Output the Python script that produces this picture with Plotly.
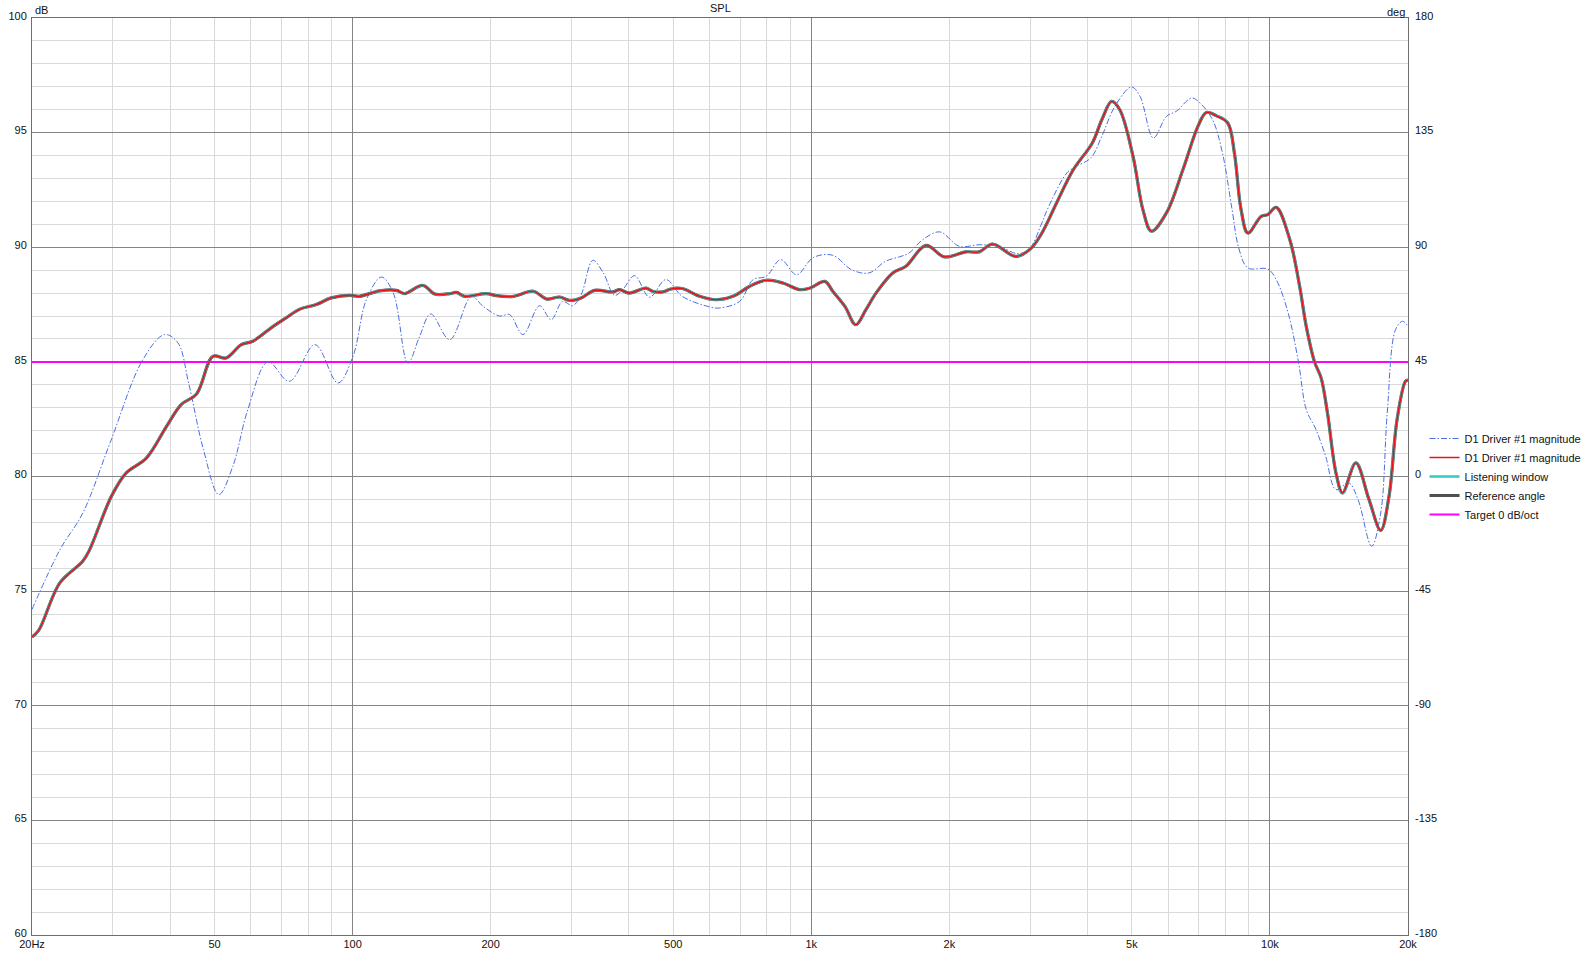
import math
import plotly.graph_objects as go

# ---------------- data ----------------
freq_red = [20, 20.7, 23.0, 25.8, 26.7, 29.8, 32.1, 35.5, 39.3, 42.3, 45.7, 49.6, 53.0, 57.2,
            60.6, 67.1, 71.6, 76.7, 83.4, 89.8, 98.6, 103.4, 114.6, 124.6, 129.8, 142.2, 151,
            162.9, 168.4, 175.5, 195.7, 205.7, 224.4, 247.6, 265, 282.8, 297, 315, 337, 369,
            382, 401, 436, 451, 474, 494, 523, 571, 620, 675, 733, 798, 867, 944, 994, 1071,
            1114, 1184, 1250, 1316, 1384, 1506, 1608, 1778, 1950, 2174, 2324, 2484, 2792, 3006,
            3183, 3430, 3726, 4100, 4300, 4517, 4706, 5030, 5285, 5516, 5948, 6460, 6966, 7264,
            7636, 8092, 8366, 8652, 8952, 9570, 9892, 10320, 11050, 11610, 12000, 12510, 12930,
            13350, 13930, 14400, 15390, 16440, 17440, 18180, 18930, 19750, 20000]
spl_red = [73.0, 73.3, 75.36, 76.3, 76.8, 79.14, 80.16, 80.8, 82.19, 83.14, 83.6, 85.24, 85.17, 85.75,
           85.9, 86.55, 86.92, 87.3, 87.5, 87.79, 87.9, 87.86, 88.1, 88.12, 87.98, 88.34, 87.96,
           87.98, 88.03, 87.86, 87.98, 87.89, 87.86, 88.08, 87.74, 87.83, 87.68, 87.79, 88.12, 88.05,
           88.15, 88.0, 88.22, 88.08, 88.05, 88.18, 88.2, 87.86, 87.71, 87.86, 88.29, 88.56, 88.44, 88.15, 88.22, 88.51,
           88.08, 87.42, 86.62, 87.28, 88.0, 88.88, 89.17, 90.08, 89.58, 89.8, 89.8, 90.14, 89.6, 89.93,
           90.62, 91.95, 93.38, 94.55, 95.56, 96.36, 96.0, 93.96, 91.64, 90.7, 91.5, 93.38, 95.27, 95.88,
           95.74, 95.42, 94.11, 91.64, 90.62, 91.35, 91.42, 91.74, 90.33, 88.29, 86.55, 85.0, 84.3,
           82.77, 80.16, 79.28, 80.59, 79.0, 77.65, 79.13, 82.48, 84.15, 84.2]

freq_blue = [20, 23.0, 25.8, 29.6, 34.9, 38.9, 41.6, 43.9, 47.3, 51.1, 54.8, 59.1, 65.4, 72.8, 82.8,
             92.9, 100.2, 107.2, 115.6, 122.7, 132, 140, 148, 162.9, 181.6, 192.6, 209.2, 220, 235.2,
             255.6, 271, 287, 301.7, 315, 334, 352, 372.5, 388, 412, 444, 482, 523, 600, 630, 698,
             747, 798, 858, 929, 1010, 1114, 1224, 1336, 1452, 1556, 1634, 1750, 1906, 2104, 2324,
             2564, 2815, 2982, 3183, 3270, 3608, 3785, 4070, 4300, 4593, 4990, 5210, 5570, 5948,
             6250, 6750, 7040, 7500, 7880, 8270, 8550, 8952, 9892, 10320, 10960, 11550, 12000,
             12600, 13230, 13930, 14850, 15560, 16660, 17440, 18020, 18790, 19460, 20000]
spl_blue = [74.2, 76.8, 78.4, 81.47, 85.1, 86.19, 85.83, 84.08, 81.17, 79.21, 80.44, 82.92, 85.0, 84.15, 85.75,
            84.08, 85.24, 87.72, 88.7, 88.0, 84.95, 86.11, 87.09, 85.97, 87.86, 87.42, 87.0, 87.06, 86.19,
            87.45, 86.84, 87.64, 87.45, 87.93, 89.43, 88.88, 87.9, 88.15, 88.76, 87.82, 88.59, 87.86, 87.4, 87.35, 87.64,
            88.59, 88.73, 89.46, 88.8, 89.55, 89.65, 89.02, 88.88, 89.39, 89.58, 89.75, 90.33, 90.67, 90.04, 90.11,
            90.04, 89.72, 89.9, 91.06, 91.64, 93.24, 93.53, 93.9, 94.84, 96.15, 96.99, 96.58, 94.77, 95.71,
            95.93, 96.51, 96.29, 95.56, 94.11, 91.64, 89.97, 89.1, 89.05, 88.59, 87.13, 84.95, 82.92,
            82.05, 80.88, 79.43, 79.72, 79.0, 76.96, 78.41, 82.77, 86.41, 86.77, 86.55]

target_level = 85.0
freq_span = [20, 20000]

x_label_vals = [20, 50, 100, 200, 500, 1000, 2000, 5000, 10000, 20000]
x_label_text = ["20Hz", "50", "100", "200", "500", "1k", "2k", "5k", "10k", "20k"]
x_major_grid = [100, 1000, 10000]
x_minor_grid = [30, 40, 50, 60, 70, 80, 90, 200, 300, 400, 500, 600, 700, 800, 900,
                2000, 3000, 4000, 5000, 6000, 7000, 8000, 9000]
y_left_vals = [60, 65, 70, 75, 80, 85, 90, 95, 100]
y_left_text = ["60", "65", "70", "75", "80", "85", "90", "95", "100"]
y_right_vals = [-180, -135, -90, -45, 0, 45, 90, 135, 180]
y_right_text = ["-180", "-135", "-90", "-45", "0", "45", "90", "135", "180"]

legend_names = ["D1 Driver #1 magnitude", "D1 Driver #1 magnitude", "Listening window",
                "Reference angle", "Target 0 dB/oct"]

FONT = "Liberation Sans, Arial, sans-serif"
TXT = "#111111"

fig = go.Figure()

fig.add_trace(go.Scatter(x=freq_span, y=[target_level, target_level], mode="lines",
                         line=dict(color="#ff00ff", width=2), name=legend_names[4],
                         legendrank=5, hoverinfo="skip"))
fig.add_trace(go.Scatter(x=freq_blue, y=spl_blue, mode="lines", line_shape="spline",
                         line=dict(color="rgb(75,110,230)", width=1, dash="6px,2px,1.5px,2px"),
                         name=legend_names[0], legendrank=1))
fig.add_trace(go.Scatter(x=freq_red, y=spl_red, mode="lines", line_shape="spline",
                         line=dict(color="#505050", width=3.2),
                         name=legend_names[3], legendrank=4))
fig.add_trace(go.Scatter(x=freq_red, y=spl_red, mode="lines", line_shape="spline",
                         line=dict(color="#30c8c8", width=2.4),
                         name=legend_names[2], legendrank=3))
fig.add_trace(go.Scatter(x=freq_red, y=spl_red, mode="lines", line_shape="spline",
                         line=dict(color="#e4141a", width=1.6),
                         name=legend_names[1], legendrank=2))
fig.add_trace(go.Scatter(x=freq_span, y=[y_right_vals[0], y_right_vals[-1]], xaxis="x2", yaxis="y2",
                         mode="none", showlegend=False, hoverinfo="skip"))

xr = [math.log10(freq_span[0]), math.log10(freq_span[1])]

fig.update_layout(
    width=1591, height=953,
    template="none",
    paper_bgcolor="white", plot_bgcolor="white",
    margin=dict(l=32, r=183, t=18, b=18, autoexpand=False),
    font=dict(family=FONT, size=11, color=TXT),
    showlegend=True,
    legend=dict(x=1.012, y=0.5, xanchor="left", yanchor="middle",
                bgcolor="rgba(0,0,0,0)", font=dict(size=11, color=TXT),
                itemwidth=30, tracegroupgap=0),
    xaxis=dict(type="log", range=xr, tickmode="array", tickvals=x_major_grid,
               showticklabels=False, ticks="", showgrid=True, gridcolor="#858585", gridwidth=1,
               minor=dict(tickmode="array", tickvals=x_minor_grid, showgrid=True,
                          gridcolor="#dadada", gridwidth=1, ticks=""),
               showline=True, linecolor="#6e6e6e", linewidth=1, mirror=True,
               zeroline=False, automargin=False, fixedrange=True),
    xaxis2=dict(type="log", range=xr, overlaying="x", anchor="y", side="bottom",
                tickmode="array", tickvals=x_label_vals, ticktext=x_label_text,
                showgrid=False, ticks="", showline=False, zeroline=False,
                tickfont=dict(size=11, color=TXT), automargin=False, fixedrange=True,
                ticklabelstandoff=1),
    yaxis=dict(range=[60, 100], tickmode="array", tickvals=y_left_vals, ticktext=y_left_text,
               ticks="", showgrid=True, gridcolor="#858585", gridwidth=1,
               minor=dict(dtick=1, showgrid=True, gridcolor="#dadada", gridwidth=1, ticks=""),
               showline=True, linecolor="#6e6e6e", linewidth=1, mirror=True, zeroline=False,
               tickfont=dict(size=11, color=TXT), automargin=False, fixedrange=True,
               ticklabelshift=-2, ticklabelstandoff=2),
    yaxis2=dict(range=[-180, 180], overlaying="y", side="right", anchor="x2",
                tickmode="array", tickvals=y_right_vals, ticktext=y_right_text,
                showgrid=False, ticks="", showline=False, zeroline=False,
                tickfont=dict(size=11, color=TXT), automargin=False, fixedrange=True,
                ticklabelshift=-2, ticklabelstandoff=6),
    annotations=[
        dict(text="SPL", xref="paper", yref="paper", x=0.5, y=1, xanchor="center", yanchor="bottom",
             yshift=2, showarrow=False, font=dict(size=11, color=TXT)),
        dict(text="dB", xref="paper", yref="paper", x=0, y=1, xanchor="left", yanchor="bottom",
             xshift=1, yshift=0, showarrow=False, font=dict(size=11, color=TXT)),
        dict(text="deg", xref="paper", yref="paper", x=1, y=1, xanchor="right", yanchor="bottom",
             xshift=-1, yshift=-2, showarrow=False, font=dict(size=11, color=TXT)),
    ],
)

fig.write_html("out.html", config={"displayModeBar": False},
               post_script="document.body.style.margin='0px';document.body.style.overflow='hidden';")
